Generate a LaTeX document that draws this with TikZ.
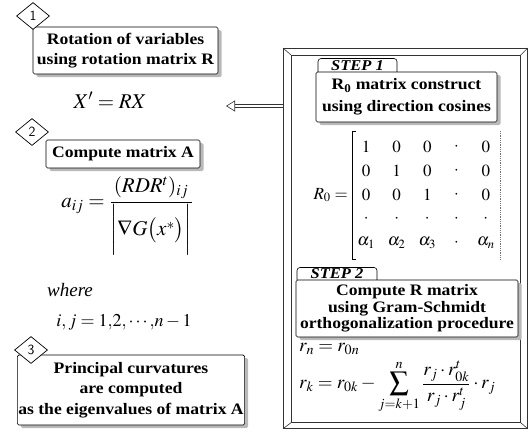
\documentclass[tikz,border=0pt]{standalone}
\usepackage{amsmath}
\usepackage{mathptmx}
\usepackage[no-math]{fontspec}
\setmainfont{Liberation Serif}
\newfontfamily\boxfont[FakeStretch=1.1]{Liberation Serif}
\usetikzlibrary{shapes.geometric,arrows.meta,shadows,matrix}
\tikzset{
  textbox/.style={draw, line width=0.6pt, rounded corners=1.5pt, fill=white, align=center,
    inner sep=1pt, font=\boxfont\bfseries\fontsize{16}{20}\selectfont,
    drop shadow={shadow xshift=3.5pt, shadow yshift=-3pt, opacity=1, fill=gray!55}},
  steptab/.style={draw, line width=0.6pt, rounded corners=3pt, fill=white, inner sep=1pt,
    font=\boxfont\bfseries\itshape\fontsize{15}{16}\selectfont},
  numdiamond/.style={diamond, draw, line width=0.7pt, fill=white, inner sep=0pt,
    minimum width=33pt, minimum height=27pt, font=\sffamily\fontsize{14}{14}\selectfont},
  framebox/.style={draw=black!80, line width=0.7pt, inner sep=0pt},
  mathtext/.style={inner sep=0pt},
  bracket/.style={line width=0.8pt},
  rbracket/.style={line width=0.8pt, black!55, densely dotted}
}
\begin{document}
\begin{tikzpicture}[x=1pt,y=-1pt]
\useasboundingbox (0,0) rectangle (529,432);

% big frame
\node[framebox, minimum width=244pt, minimum height=380pt, anchor=north west] (frame) at (283,48) {};
\node[framebox, minimum width=229pt, minimum height=367pt, anchor=north west] (inner) at (291,55) {};
\draw[black!80, line width=0.6pt] (frame.north west) -- (inner.north west)
  (frame.north east) -- (inner.north east)
  (frame.south west) -- (inner.south west)
  (frame.south east) -- (inner.south east);

% step 1
\node[steptab, minimum width=79pt, minimum height=17pt] (tab1) at (357.5,67) {\underline{STEP 1}};
\node[textbox, minimum width=181pt, minimum height=50pt, font=\boxfont\bfseries\fontsize{16}{22}\selectfont] (step1) at (406.5,97)
  {R\textsubscript{0} matrix construct\\using direction cosines};

% R0 matrix
\matrix (rm) [matrix of math nodes, row sep=5pt, column sep=13pt,
  nodes={anchor=center, minimum width=15pt, minimum height=19pt, inner sep=0pt,
    font=\fontsize{17}{20}\selectfont}] at (426,195) {
  1 & 0 & 0 & \cdot & 0\\
  0 & 1 & 0 & \cdot & 0\\
  0 & 0 & 1 & \cdot & 0\\
  \cdot & \cdot & \cdot & \cdot & \cdot\\
  \alpha_1 & \alpha_2 & \alpha_3 & \cdot & \alpha_n\\
};
\draw[bracket] ([xshift=-2pt,yshift=3pt]rm.north west) ++(4pt,0) -- ++(-4pt,0) -- ([xshift=-2pt,yshift=-3pt]rm.south west) -- ++(4pt,0);
\draw[rbracket] ([xshift=2pt,yshift=3pt]rm.north east) -- ([xshift=2pt,yshift=-3pt]rm.south east);
\node[mathtext, anchor=east] (r0) at ([xshift=-6pt]rm.west) {\fontsize{17}{20}\selectfont $R_0 =$};

% step 2
\node[steptab, minimum width=80pt, minimum height=15pt] (tab2) at (337,275) {\underline{STEP 2}};
\node[textbox, minimum width=222pt, minimum height=57pt, font=\boxfont\bfseries\fontsize{16}{16.5}\selectfont] (step2) at (407,308.5)
  {Compute R matrix\\using Gram-Schmidt\\orthogonalization procedure};

\node[mathtext, anchor=west] (rn) at (299,349) {\fontsize{19}{22}\selectfont $r_n = r_{0n}$};
\node[mathtext, anchor=west] (rk) at (299,387) {\fontsize{19}{22}\selectfont
  $\displaystyle r_k = r_{0k} - \sum_{j=k+1}^{n}\frac{r_j\cdot r_{0k}^{t}}{r_j\cdot r_j^{t}}\cdot r_j$};

% left column
\node[textbox, minimum width=185pt, minimum height=47pt] (box1) at (125.5,50.5)
  {Rotation of variables\\using rotation matrix R};
\node[numdiamond] (d1) at (33,16) {1};

\node[mathtext] (xrx) at (110,100) {\fontsize{21}{25}\selectfont $X' = RX$};

\node[textbox, minimum width=154pt, minimum height=28pt] (box2) at (123,154) {Compute matrix A};
\node[numdiamond] (d2) at (32,132) {2};

\node[mathtext] (aij) at (127,216) {\fontsize{21}{25}\selectfont
  $\displaystyle a_{ij} = \frac{(RDR^{t})_{ij}}{\biggl|\nabla G\bigl(x^{*}\bigr)\biggr|}$};

\node[mathtext, anchor=west] (where) at (47,290) {\fontsize{19}{23}\selectfont\itshape where};
\node[mathtext] (ij) at (124,322) {\fontsize{18}{21}\selectfont $i, j = 1{,}2{,}\cdots{,}n-1$};

\node[textbox, minimum width=202pt, minimum height=70pt, font=\boxfont\bfseries\fontsize{16}{20.5}\selectfont] (box3) at (131,390)
  {Principal curvatures\\are computed\\as the eigenvalues of matrix A};
\node[numdiamond] (d3) at (31,350) {3};

% arrow
\coordinate (arrowtip) at (226,106);
\draw[black!80, double=white, double distance=2pt, line width=0.6pt,
  -{Triangle[open, length=9pt, width=11pt]}] (frame.west |- arrowtip) -- (arrowtip);
\end{tikzpicture}
\end{document}
